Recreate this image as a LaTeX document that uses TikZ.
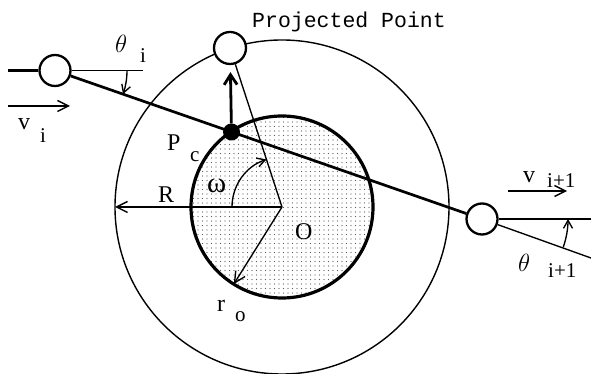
\documentclass[tikz,border=0pt]{standalone}
\usepackage{fontspec}
\setmainfont{Liberation Serif}
\newfontfamily\monof{Liberation Mono}
\usetikzlibrary{arrows.meta,patterns.meta}
\begin{document}
\begin{tikzpicture}[x=1pt,y=1pt,
  lab/.style={inner sep=0pt,anchor=base west,font=\fontsize{24}{24}\selectfont},
  sublab/.style={inner sep=0pt,anchor=base west,font=\fontsize{21}{21}\selectfont},
  ball/.style={circle,draw,line width=2.3pt,fill=white,minimum size=31pt,inner sep=0pt},
  thinl/.style={line width=1.35pt},
  thickl/.style={line width=2.7pt},
  barb/.style={-{Straight Barb[length=11pt,width=11pt]}},
  smallbarb/.style={-{Straight Barb[length=8pt,width=9pt]}}
]
\useasboundingbox (0,0) rectangle (591,374);
\coordinate (O) at (282,167);
% inner disk
\fill[pattern={Dots[distance=4.5pt,radius=0.55pt]},pattern color=black!65] (O) circle[radius=91];
\draw[line width=1.4pt] (O) circle[radius=167];
\draw[line width=3.2pt] (O) circle[radius=91];
% nodes
\node[ball] (A) at (55,303.5) {};
\node[ball] (B) at (482,155) {};
\node[ball,minimum size=32pt] (P) at (230,326) {};
\node[circle,fill=black,minimum size=17pt,inner sep=0pt] (Pc) at (231.5,242) {};
% coordinates
\coordinate (L1) at (8,303.5);
\coordinate (Aref) at (143,303.5);
\coordinate (Bh) at (591,155);
\coordinate (Bs) at (591,116);
\coordinate (Rl) at (115,167);
\coordinate (ro) at ([shift={(238:91pt)}]O);
\coordinate (v1a) at (8,268);
\coordinate (v1b) at (70,268);
\coordinate (v2a) at (508,183);
\coordinate (v2b) at (567,183);
% lines
\draw[thickl] (A) -- (B);
\draw[thickl] (L1) -- (A);
\draw[thinl] (A) -- (Aref);
\draw[thickl] (B) -- (Bh);
\draw[thinl] (B) -- (Bs);
\draw[thinl] (P) -- (O);
\draw[thinl,barb] (O) -- (Rl);
\draw[thinl,barb] (O) -- (ro);
\draw[line width=2.8pt,-{Straight Barb[length=10pt,width=13pt]},shorten >=7pt] (Pc) -- (P);
\draw[thinl,barb] (v1a) -- (v1b);
\draw[thinl,barb] (v2a) -- (v2b);
% angle arcs
\draw[thinl,smallbarb] ([xshift=72pt]A.center) arc[start angle=0,end angle=-19.2,radius=72pt];
\draw[thinl,smallbarb] ([shift={(-19.2:86pt)}]B.center) arc[start angle=-19.2,end angle=0,radius=86pt];
\draw[thinl,smallbarb] ([xshift=-50pt]O) arc[start angle=180,end angle=108.1,radius=50pt];
% labels
\node[inner sep=0pt,anchor=base west,font=\monof\fontsize{21.5}{21.5}\selectfont] (proj) at (252,346) {Projected Point};
\node[lab] (viv) at (18,244) {v};
\node[sublab] (vii) at (40,231) {i};
\node[lab] (thi) at (115,321) {$\theta$};
\node[sublab] (thii) at (140,311) {i};
\node[lab] (pcp) at (167,223) {P};
\node[sublab] (pcc) at (190,212) {c};
\node[lab] (rl) at (158,171) {R};
\node[lab,font=\fontsize{29}{29}\selectfont] (om) at (207,181) {ω};
\node[lab] (ol) at (295,134) {O};
\node[lab] (rr) at (217,62) {r};
\node[sublab] (roo) at (235,52) {o};
\node[lab] (v2v) at (523,191) {v};
\node[sublab] (v2i) at (547,186) {i+1};
\node[lab] (th2) at (518,102) {$\theta$};
\node[sublab] (th2i) at (548,96) {i+1};
\end{tikzpicture}
\end{document}
